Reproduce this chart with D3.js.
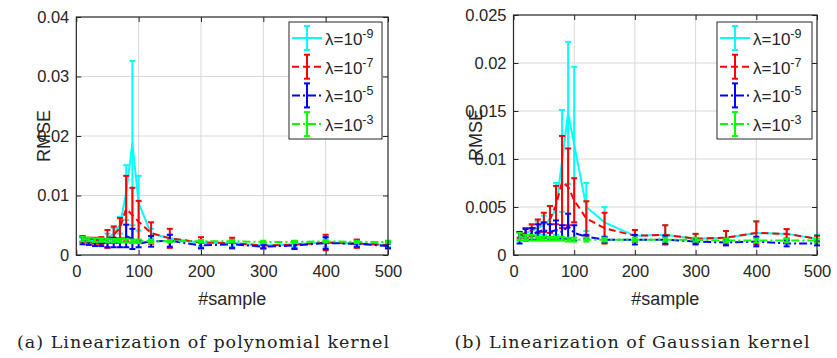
<!DOCTYPE html>
<html>
<head>
<meta charset="utf-8">
<script src="https://cdn.jsdelivr.net/npm/d3@7"></script>
<style>
  body { margin: 0; background: #fff; }
  svg { display: block; }
  text { font-family: 'Liberation Sans', Arial, sans-serif; fill: #262626; }
</style>
</head>
<body>
<svg id="chart" width="837" height="358"></svg>
<script>
// x positions (#sample) shared by both panels
const samples = [10, 20, 30, 40, 50, 60, 70, 80, 90, 100, 120, 150, 200, 250, 300, 350, 400, 450, 500]
const xTicks = [0, 100, 200, 300, 400, 500]
const polyYTicks = [0, 0.01, 0.02, 0.03, 0.04]
const gaussYTicks = [0, 0.005, 0.01, 0.015, 0.02, 0.025]
const lambdaExps = ['-9', '-7', '-5', '-3']

// (a) polynomial kernel: mean RMSE and error half-width
const polyMean9 = [0.0025, 0.0024, 0.0024, 0.0025, 0.0028, 0.0036, 0.0050, 0.0105, 0.0188, 0.0087, 0.0036, 0.0028, 0.0020, 0.0020, 0.0016, 0.0018, 0.0021, 0.0019, 0.0017]
const polyErr9 = [0.0004, 0.0004, 0.0004, 0.0005, 0.0008, 0.0010, 0.0014, 0.0046, 0.0138, 0.0046, 0.0008, 0.0006, 0.0005, 0.0006, 0.0004, 0.0005, 0.0008, 0.0006, 0.0004]
const polyMean7 = [0.0026, 0.0025, 0.0024, 0.0024, 0.0027, 0.0034, 0.0045, 0.0078, 0.0067, 0.0056, 0.0037, 0.0028, 0.0021, 0.0020, 0.0016, 0.0017, 0.0021, 0.0019, 0.0017]
const polyErr7 = [0.0004, 0.0004, 0.0005, 0.0006, 0.0015, 0.0014, 0.0017, 0.0055, 0.0046, 0.0035, 0.0018, 0.0016, 0.0009, 0.0009, 0.0005, 0.0006, 0.0013, 0.0007, 0.0005]
const polyMean5 = [0.0025, 0.0022, 0.0021, 0.0020, 0.0020, 0.0021, 0.0020, 0.0032, 0.0027, 0.0019, 0.0023, 0.0024, 0.0016, 0.0018, 0.0014, 0.0016, 0.0020, 0.0019, 0.0015]
const polyErr5 = [0.0007, 0.0005, 0.0006, 0.0005, 0.0007, 0.0008, 0.0007, 0.0019, 0.0017, 0.0006, 0.0009, 0.0010, 0.0005, 0.0006, 0.0003, 0.0006, 0.0010, 0.0005, 0.0004]
const polyMean3 = [0.0027, 0.0026, 0.0025, 0.0025, 0.0024, 0.0024, 0.0024, 0.0024, 0.0023, 0.0023, 0.0023, 0.0023, 0.0023, 0.0023, 0.0022, 0.0022, 0.0023, 0.0022, 0.0022]
const polyErr3 = [0.0004, 0.0003, 0.0003, 0.0003, 0.0003, 0.0003, 0.0003, 0.0003, 0.0003, 0.0003, 0.0003, 0.0002, 0.0002, 0.0002, 0.0002, 0.0002, 0.0002, 0.0002, 0.0002]

// (b) Gaussian kernel
const gaussMean9 = [0.0020, 0.0023, 0.0025, 0.0028, 0.0031, 0.0037, 0.0048, 0.0098, 0.0148, 0.0115, 0.0050, 0.0034, 0.0020, 0.0021, 0.0017, 0.0018, 0.0023, 0.0022, 0.0017]
const gaussErr9 = [0.0004, 0.0005, 0.0006, 0.0007, 0.0010, 0.0014, 0.0027, 0.0053, 0.0074, 0.0081, 0.0025, 0.0016, 0.0006, 0.0010, 0.0005, 0.0007, 0.0012, 0.0005, 0.0004]
const gaussMean7 = [0.0021, 0.0023, 0.0026, 0.0030, 0.0034, 0.0037, 0.0052, 0.0076, 0.0071, 0.0057, 0.0038, 0.0028, 0.0020, 0.0021, 0.0017, 0.0018, 0.0023, 0.0022, 0.0017]
const gaussErr7 = [0.0003, 0.0005, 0.0006, 0.0007, 0.0010, 0.0014, 0.0020, 0.0048, 0.0040, 0.0023, 0.0018, 0.0016, 0.0006, 0.0010, 0.0005, 0.0007, 0.0012, 0.0005, 0.0003]
const gaussMean5 = [0.0018, 0.0021, 0.0022, 0.0024, 0.0026, 0.0024, 0.0026, 0.0024, 0.0030, 0.0023, 0.0019, 0.0016, 0.0016, 0.0016, 0.0014, 0.0013, 0.0014, 0.0012, 0.0012]
const gaussErr5 = [0.0006, 0.0006, 0.0006, 0.0008, 0.0008, 0.0008, 0.0010, 0.0007, 0.0013, 0.0008, 0.0002, 0.0003, 0.0005, 0.0004, 0.0003, 0.0003, 0.0005, 0.0003, 0.0002]
const gaussMean3 = [0.0019, 0.0018, 0.0018, 0.0017, 0.0017, 0.0017, 0.0017, 0.0017, 0.0016, 0.0016, 0.0016, 0.0016, 0.0016, 0.0016, 0.0016, 0.0015, 0.0015, 0.0015, 0.0015]
const gaussErr3 = [0.0004, 0.0003, 0.0003, 0.0002, 0.0002, 0.0002, 0.0002, 0.0002, 0.0002, 0.0002, 0.0002, 0.0002, 0.0002, 0.0002, 0.0002, 0.0002, 0.0002, 0.0002, 0.0002]

const styles = [
  { color: '#00ffff', dash: null },
  { color: '#ff0000', dash: '7,4' },
  { color: '#0000ff', dash: '8,3,2,3' },
  { color: '#00ff00', dash: '8,3,2,3' },
]

const svg = d3.select('#chart')

function drawPanel(p) {
  const x = d3.scaleLinear().domain([0, 500]).range([p.left, p.right])
  const y = d3.scaleLinear().domain([0, p.yMax]).range([p.bottom, p.top])
  const g = svg.append('g')

  // grid
  g.selectAll('.gx').data(xTicks.slice(1, -1)).enter().append('line')
    .attr('x1', d => x(d)).attr('x2', d => x(d))
    .attr('y1', p.top).attr('y2', p.bottom)
    .attr('stroke', '#d8d8d8').attr('stroke-width', 1)
  g.selectAll('.gy').data(p.yTicks.slice(1, -1)).enter().append('line')
    .attr('x1', p.left).attr('x2', p.right)
    .attr('y1', d => y(d)).attr('y2', d => y(d))
    .attr('stroke', '#d8d8d8').attr('stroke-width', 1)

  // series: lines then error bars
  p.series.forEach((s, i) => {
    const st = styles[i]
    const pts = samples.map((n, k) => ({ n, m: s.mean[k], e: s.err[k] }))
    const sg = g.append('g')
    sg.append('path').datum(pts)
      .attr('fill', 'none')
      .attr('stroke', st.color)
      .attr('stroke-width', 2)
      .attr('stroke-dasharray', st.dash)
      .attr('d', d3.line().x(d => x(d.n)).y(d => y(d.m)))
    const bars = sg.selectAll('.eb').data(pts).enter().append('g')
    bars.append('line')
      .attr('x1', d => x(d.n)).attr('x2', d => x(d.n))
      .attr('y1', d => y(d.m - d.e)).attr('y2', d => y(d.m + d.e))
      .attr('stroke', st.color).attr('stroke-width', 2)
    ;['lo', 'hi'].forEach(end => {
      bars.append('line')
        .attr('x1', d => x(d.n) - 3).attr('x2', d => x(d.n) + 3)
        .attr('y1', d => y(end === 'lo' ? d.m - d.e : d.m + d.e))
        .attr('y2', d => y(end === 'lo' ? d.m - d.e : d.m + d.e))
        .attr('stroke', st.color).attr('stroke-width', 2)
    })
  })

  // axes (inward ticks on all sides, MATLAB box)
  const axisStyle = sel => {
    sel.select('.domain').remove()
    sel.selectAll('.tick line').attr('stroke', '#262626')
    sel.selectAll('.tick text').attr('fill', '#262626').style('font-size', '16.5px')
  }
  g.append('g').attr('transform', `translate(0,${p.bottom})`)
    .call(d3.axisBottom(x).tickValues(xTicks).tickSizeInner(-5).tickSizeOuter(0).tickPadding(10).tickFormat(d3.format('d')))
    .call(axisStyle)
  g.append('g').attr('transform', `translate(0,${p.top})`)
    .call(d3.axisTop(x).tickValues(xTicks).tickSizeInner(-5).tickSizeOuter(0).tickFormat(''))
    .call(axisStyle)
  g.append('g').attr('transform', `translate(${p.left},0)`)
    .call(d3.axisLeft(y).tickValues(p.yTicks).tickSizeInner(-5).tickSizeOuter(0).tickPadding(7).tickFormat(d => String(d)))
    .call(axisStyle)
  g.append('g').attr('transform', `translate(${p.right},0)`)
    .call(d3.axisRight(y).tickValues(p.yTicks).tickSizeInner(-5).tickSizeOuter(0).tickFormat(''))
    .call(axisStyle)

  g.append('rect')
    .attr('x', p.left).attr('y', p.top)
    .attr('width', p.right - p.left).attr('height', p.bottom - p.top)
    .attr('fill', 'none').attr('stroke', '#262626').attr('stroke-width', 1.2)

  // axis labels
  g.append('text')
    .attr('x', (p.left + p.right) / 2).attr('y', 305)
    .attr('text-anchor', 'middle').style('font-size', '18px')
    .text('#sample')
  g.append('text')
    .attr('transform', `translate(${p.yLabelX},${p.yLabelY}) rotate(-90)`)
    .attr('text-anchor', 'middle').style('font-size', '18px')
    .text('RMSE')

  // legend
  const lg = g.append('g').attr('transform', `translate(${p.legend.x},${p.legend.y})`)
  lg.append('rect').attr('width', p.legend.w).attr('height', 117)
    .attr('fill', '#fff').attr('stroke', '#262626').attr('stroke-width', 1)
  lambdaExps.forEach((ex, i) => {
    const st = styles[i]
    const cy = 16 + i * 28.7
    lg.append('line').attr('x1', 3).attr('x2', 33).attr('y1', cy).attr('y2', cy)
      .attr('stroke', st.color).attr('stroke-width', 2).attr('stroke-dasharray', st.dash)
    lg.append('line').attr('x1', 18).attr('x2', 18).attr('y1', cy - 12).attr('y2', cy + 12)
      .attr('stroke', st.color).attr('stroke-width', 2)
    ;[-12, 12].forEach(o => lg.append('line').attr('x1', 15).attr('x2', 21)
      .attr('y1', cy + o).attr('y2', cy + o).attr('stroke', st.color).attr('stroke-width', 2))
    const t = lg.append('text').attr('x', 36).attr('y', cy + 7).style('font-size', '17px')
    t.append('tspan').text('λ=10')
    t.append('tspan').attr('dy', -7).style('font-size', '12.5px').text(ex)
  })

  // caption
  svg.append('text')
    .attr('x', p.captionX).attr('y', 348)
    .attr('text-anchor', 'middle')
    .attr('textLength', p.captionW).attr('lengthAdjust', 'spacing')
    .style('font-family', "'DejaVu Serif', serif").style('font-size', '17.5px').style('fill', '#222')
    .text(p.caption)
}

drawPanel({
  left: 76.3, right: 388, top: 17, bottom: 255, yMax: 0.04, yTicks: polyYTicks, yLabelX: 50, yLabelY: 136,
  legend: { x: 289, y: 22, w: 93 },
  caption: '(a) Linearization of polynomial kernel', captionX: 203, captionW: 372,
  series: [
    { mean: polyMean9, err: polyErr9 }, { mean: polyMean7, err: polyErr7 },
    { mean: polyMean5, err: polyErr5 }, { mean: polyMean3, err: polyErr3 },
  ],
})
drawPanel({
  left: 513.5, right: 817, top: 15, bottom: 255, yMax: 0.025, yTicks: gaussYTicks, yLabelX: 482, yLabelY: 135,
  legend: { x: 717, y: 22, w: 95 },
  caption: '(b) Linearization of Gaussian kernel', captionX: 632, captionW: 355,
  series: [
    { mean: gaussMean9, err: gaussErr9 }, { mean: gaussMean7, err: gaussErr7 },
    { mean: gaussMean5, err: gaussErr5 }, { mean: gaussMean3, err: gaussErr3 },
  ],
})
</script>
</body>
</html>
